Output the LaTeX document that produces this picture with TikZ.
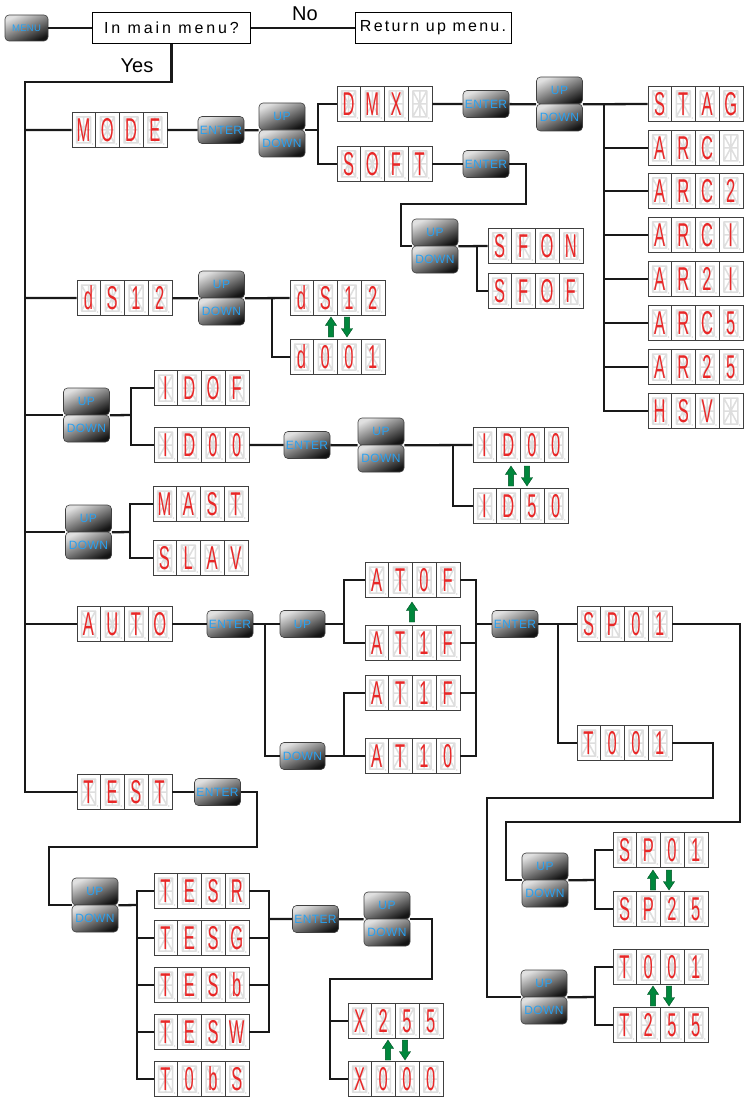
\documentclass[tikz,border=0pt]{standalone}
\usepackage{fontspec}
\usetikzlibrary{calc}
\newfontfamily\qfont[LetterSpace=14]{Liberation Sans}
\newfontfamily\plainf{Liberation Sans}
\newfontfamily\btnfont[LetterSpace=3]{Liberation Sans}
\newfontfamily\segfont[FakeStretch=0.5]{Liberation Sans}
\definecolor{btnblue}{RGB}{40,160,240}
\definecolor{segred}{RGB}{232,40,40}
\definecolor{ghostc}{RGB}{222,222,222}
\definecolor{arrg}{RGB}{0,135,60}
\tikzset{
 conn/.style={line width=2.3pt, draw=black!90},
 disp/.style={rectangle, minimum width=95pt, minimum height=35pt, inner sep=0pt, fill=white, draw=black!80, line width=0.8pt},
 celledge/.style={draw=black!75, line width=0.7pt},
 ghost/.style={draw=ghostc, line width=1.5pt, line cap=round, line join=round},
 segchar/.style={text=segred, font=\segfont\fontsize{33}{33}\selectfont, inner sep=0pt},
 btn/.style={rectangle, rounded corners=4pt, minimum width=46pt, minimum height=27pt, inner sep=0pt, draw=black!75, line width=0.6pt, top color=black!12, middle color=black!38, bottom color=black!92, shading angle=25, text=btnblue, font=\btnfont\fontsize{12}{12}\selectfont},
 qbox/.style={rectangle, draw=black, line width=0.9pt, fill=white, minimum height=31pt, inner sep=0pt, font=\qfont\fontsize{16}{16}\selectfont},
 lbl/.style={font=\plainf\fontsize{20}{20}\selectfont, inner sep=0pt},
 arrfill/.style={fill=arrg, draw=arrg!60!black, line width=0.4pt, line join=miter},
}
\newcommand\uparrowat[2]{%
 \filldraw[arrfill] (#1-2.6,#2+10) -- (#1-2.6,#2-1.5) -- (#1-5.6,#2-1.5) -- (#1,#2-10) -- (#1+5.6,#2-1.5) -- (#1+2.6,#2-1.5) -- (#1+2.6,#2+10) -- cycle;}
\newcommand\downarrowat[2]{%
 \filldraw[arrfill] (#1-2.6,#2-10) -- (#1-2.6,#2+1.5) -- (#1-5.6,#2+1.5) -- (#1,#2+10) -- (#1+5.6,#2+1.5) -- (#1+2.6,#2+1.5) -- (#1+2.6,#2-10) -- cycle;}
\newcommand\dcell[3]{%
 \begin{scope}[shift={(#1,#2)}]
 \draw[celledge] (0,0) rectangle (23.75,35);
 \draw[ghost] (4.5,4.5) rectangle (18.5,30.5) (4.5,17.5) -- (18.5,17.5) (11.5,4.5) -- (11.5,30.5) (4.5,4.5) -- (11.5,17.5) -- (18.5,4.5) (4.5,30.5) -- (11.5,17.5) -- (18.5,30.5);
 \fill[ghostc] (20.5,31.5) circle (0.9pt);
 \node[segchar] at (11.5,17.5) {#3};
 \end{scope}}
\newcommand\dispbox[7]{%
 \node[disp] (#1) at (#2+47.5,#3) {};
 \dcell{#2}{#3-17.5}{#4}%
 \dcell{#2+23.75}{#3-17.5}{#5}%
 \dcell{#2+47.5}{#3-17.5}{#6}%
 \dcell{#2+71.25}{#3-17.5}{#7}%
}
\newcommand\updown[3]{%
 \node[btn] (#1u) at (#2,#3-13.5) {UP};
 \node[btn] (#1d) at (#2,#3+13.5) {DOWN};}
\begin{document}
\begin{tikzpicture}[x=1pt,y=-1pt]
\useasboundingbox (0,0) rectangle (744,1099);
% header
\node[btn, minimum width=43pt, minimum height=26pt, font=\btnfont\fontsize{9.5}{9.5}\selectfont] (menu) at (26.5,28) {MENU};
\node[qbox, minimum width=158pt] (q) at (171.5,28) {\addfontfeatures{LetterSpace=18}In main menu?};
\node[qbox, minimum width=156pt] (ret) at (433,28) {Return up menu.};
\node[lbl] (no) at (305,14) {No};
\node[lbl] (yes) at (137,66) {Yes};
\draw[conn] (menu) -- (q);
\draw[conn] (q) -- (ret);
\coordinate (sp) at (25,82);
% row 1
\dispbox{mode}{72}{130}{M}{O}{D}{E}
\node[btn] (e1) at (221,130) {ENTER};
\updown{ud1}{282}{130}
\dispbox{dmx}{337}{104}{D}{M}{X}{}
\dispbox{soft}{337}{164}{S}{O}{F}{T}
\draw[conn] (sp |- mode.west) -- (mode) -- (e1) -- (ud1u.south west);
\coordinate (b1) at ($(ud1u.south east)+(13,0)$);
\draw[conn] (ud1u.south east) -- (b1);
\draw[conn] (dmx.west) -| (b1) |- (soft.west);
\node[btn] (e2) at (486,104) {ENTER};
\updown{ud2}{559.5}{104}
\draw[conn] (dmx) -- (e2) -- (ud2u.south west);
\dispbox{stag}{648}{104}{S}{T}{A}{G}
\dispbox{arc}{648}{148}{A}{R}{C}{}
\dispbox{arcb}{648}{191}{A}{R}{C}{2}
\dispbox{arcc}{648}{235}{A}{R}{C}{I}
\dispbox{ar2i}{648}{279}{A}{R}{2}{I}
\dispbox{arcs}{648}{323}{A}{R}{C}{5}
\dispbox{ar25}{648}{367}{A}{R}{2}{5}
\dispbox{hsv}{648}{411}{H}{S}{V}{}
\coordinate (b2) at (604,104);
\draw[conn] (ud2u.south east) -- (stag.west);
\draw[conn] (b2) |- (hsv.west);
\foreach \n in {arc,arcb,arcc,ar2i,arcs,ar25} \draw[conn] (b2 |- \n.west) -- (\n.west);
\node[btn] (e3) at (486,164) {ENTER};
\updown{ud3}{435}{246}
\draw[conn] (soft) -- (e3);
\coordinate (p1) at (526,204);
\coordinate (p2) at ($(ud3u.south west)+(-11,0)$);
\draw[conn] (e3.east) -| (p1) -| (p2) -- (ud3u.south west);
\dispbox{sfon}{488}{246}{S}{F}{O}{N}
\dispbox{sfof}{488}{291}{S}{F}{O}{F}
\coordinate (b3) at (477,246);
\draw[conn] (ud3u.south east) -- (sfon.west);
\draw[conn] (b3) |- (sfof.west);
% row 2
\dispbox{ds}{77}{298}{d}{S}{1}{2}
\updown{ud4}{221.5}{298}
\dispbox{dsb}{290}{298}{d}{S}{1}{2}
\dispbox{dzero}{290}{357}{d}{0}{0}{1}
\draw[conn] (sp |- ds.west) -- (ds) -- (ud4u.south west);
\draw[conn] (ud4u.south east) -- (dsb.west);
\coordinate (b4) at (272,298);
\draw[conn] (b4) |- (dzero.west);
\uparrowat{331}{327}
\downarrowat{347}{327}
% row 3
\updown{ud5}{86.5}{415}
\dispbox{idof}{154}{388}{I}{D}{O}{F}
\dispbox{idoo}{154}{445}{I}{D}{0}{0}
\draw[conn] (sp |- ud5u.south west) -- (ud5u.south west);
\coordinate (b5) at (131,415);
\draw[conn] (ud5u.south east) -- (b5);
\draw[conn] (idof.west) -| (b5) |- (idoo.west);
\node[btn] (e4) at (307,445) {ENTER};
\updown{ud6}{381}{445}
\dispbox{idoob}{473}{445}{I}{D}{0}{0}
\dispbox{idfifty}{473}{506}{I}{D}{5}{0}
\draw[conn] (idoo) -- (e4) -- (ud6u.south west);
\draw[conn] (ud6u.south east) -- (idoob.west);
\coordinate (b6) at (453,445);
\draw[conn] (b6) |- (idfifty.west);
\uparrowat{511}{476}
\downarrowat{527}{476}
% row 4
\updown{ud7}{88.5}{532}
\dispbox{mast}{153}{504}{M}{A}{S}{T}
\dispbox{slav}{153}{558}{S}{L}{A}{V}
\draw[conn] (sp |- ud7u.south west) -- (ud7u.south west);
\coordinate (b7) at (130,532);
\draw[conn] (ud7u.south east) -- (b7);
\draw[conn] (mast.west) -| (b7) |- (slav.west);
% row 5
\dispbox{auto}{77}{624}{A}{U}{T}{O}
\node[btn] (e5) at (230,624) {ENTER};
\node[btn, minimum width=45pt] (bu) at (302.5,624) {UP};
\node[btn, minimum width=45pt] (bd) at (302.5,756) {DOWN};
\draw[conn] (sp |- auto.west) -- (auto) -- (e5) -- (bu);
\coordinate (b8) at (265,624);
\draw[conn] (b8) |- (bd.west);
\dispbox{atof}{365}{580}{A}{T}{0}{F}
\dispbox{atif}{365}{643}{A}{T}{1}{F}
\dispbox{atie}{365}{693}{A}{T}{1}{F}
\dispbox{atio}{365}{756}{A}{T}{1}{0}
\coordinate (b9) at (344,624);
\draw[conn] (bu.east) -- (b9);
\draw[conn] (atof.west) -| (b9) |- (atif.west);
\coordinate (b10) at (344,756);
\draw[conn] (bd.east) -- (atio.west);
\draw[conn] (b10) |- (atie.west);
\coordinate (b11) at (476,624);
\draw[conn] (atof.east) -| (b11);
\draw[conn] (atio.east) -| (b11);
\draw[conn] (atif.east) -- (b11 |- atif.east);
\draw[conn] (atie.east) -- (b11 |- atie.east);
\node[btn] (e6) at (515,624) {ENTER};
\draw[conn] (b11) -- (e6);
\dispbox{spa}{577}{624}{S}{P}{0}{1}
\dispbox{ta}{577}{743}{T}{0}{0}{1}
\draw[conn] (e6) -- (spa);
\coordinate (b12) at (558,624);
\draw[conn] (b12) |- (ta.west);
\uparrowat{412}{612}
% SP / T adjust
\updown{ud8}{545}{880}
\updown{ud9}{544}{997}
\coordinate (c1) at (740,822);
\coordinate (c2) at (506,822);
\draw[conn] (spa.east) -| (c1) -- (c2) |- (ud8u.south west);
\coordinate (c3) at (713,798);
\coordinate (c4) at (487,798);
\draw[conn] (ta.east) -| (c3) -- (c4) |- (ud9u.south west);
\dispbox{spb}{613}{850}{S}{P}{0}{1}
\dispbox{spc}{613}{909}{S}{P}{2}{5}
\coordinate (b13) at (595,880);
\draw[conn] (ud8u.south east) -- (b13);
\draw[conn] (spb.west) -| (b13) |- (spc.west);
\uparrowat{653}{880}
\downarrowat{669}{880}
\dispbox{tb}{613}{967}{T}{0}{0}{1}
\dispbox{tc}{613}{1025}{T}{2}{5}{5}
\coordinate (b14) at (595,997);
\draw[conn] (ud9u.south east) -- (b14);
\draw[conn] (tb.west) -| (b14) |- (tc.west);
\uparrowat{653}{996}
\downarrowat{669}{996}
% row 6
\dispbox{test}{77}{792}{T}{E}{S}{T}
\node[btn] (e7) at (217.5,792) {ENTER};
\draw[conn] (q.south) |- (sp) |- (test.west);
\draw[conn] (test) -- (e7);
\updown{ud10}{95}{905}
\coordinate (c5) at (257,847);
\coordinate (c6) at (49,847);
\draw[conn] (e7.east) -| (c5) -- (c6) |- (ud10u.south west);
\dispbox{tesr}{154}{891}{T}{E}{S}{R}
\dispbox{tesg}{154}{938}{T}{E}{S}{G}
\dispbox{tesb}{154}{985}{T}{E}{S}{b}
\dispbox{tesw}{154}{1032}{T}{E}{S}{W}
\dispbox{tobs}{154}{1079}{T}{0}{b}{S}
\coordinate (b15) at (137,905);
\draw[conn] (ud10u.south east) -- (b15);
\draw[conn] (tesr.west) -| (b15) |- (tobs.west);
\foreach \n in {tesg,tesb,tesw} \draw[conn] (b15 |- \n.west) -- (\n.west);
\coordinate (b16) at (269,919);
\draw[conn] (tesr.east) -| (b16);
\draw[conn] (tesw.east) -| (b16);
\foreach \n in {tesg,tesb} \draw[conn] (\n.east) -- (b16 |- \n.east);
\node[btn] (e8) at (315.5,919) {ENTER};
\updown{ud11}{387}{919}
\draw[conn] (b16) -- (e8) -- (ud11u.south west);
\coordinate (c7) at (432,979);
\coordinate (c8) at (330,979);
\dispbox{xa}{348}{1021}{X}{2}{5}{5}
\dispbox{xb}{348}{1079}{X}{0}{0}{0}
\draw[conn] (ud11u.south east) -| (c7) -- (c8) |- (xb.west);
\draw[conn] (c8 |- xa.west) -- (xa.west);
\uparrowat{388}{1050}
\downarrowat{405}{1050}
\end{tikzpicture}
\end{document}
